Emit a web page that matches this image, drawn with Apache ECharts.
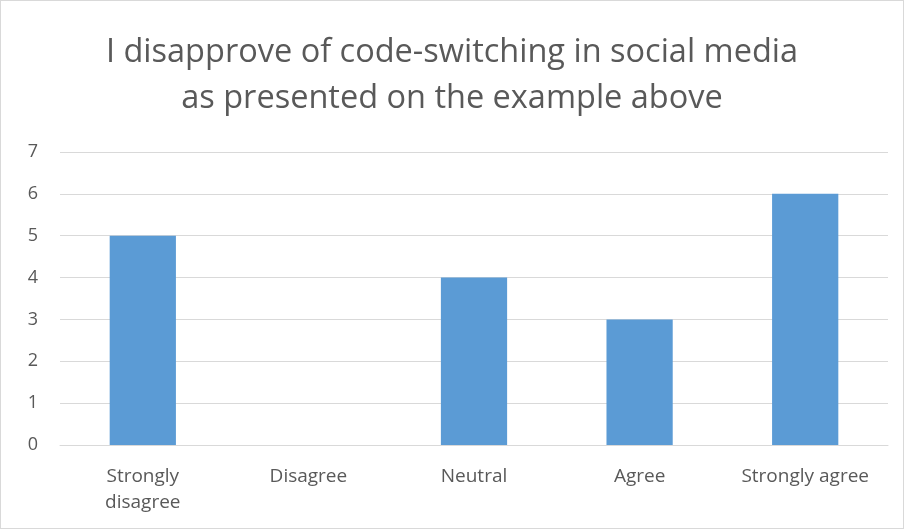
<!DOCTYPE html>
<html>
<head>
<meta charset="utf-8">
<script src="https://cdn.jsdelivr.net/npm/echarts@6/dist/echarts.min.js"></script>
<style>
html,body{margin:0;padding:0;background:#fff;}
#chart{width:902px;height:527px;border:1px solid #d9d9d9;}
</style>
</head>
<body>
<div id="chart"></div>
<script>
// categories and counts
var categories = ['Strongly\ndisagree', 'Disagree', 'Neutral', 'Agree', 'Strongly agree'];
var counts = [5, 0, 4, 3, 6];
var yTicks = {min: 0, max: 7, interval: 1};
var titleText = 'I disapprove of code-switching in social media\nas presented on the example above';

var chart = echarts.init(document.getElementById('chart'));
chart.setOption({
    animation: false,
    title: {
        text: titleText,
        left: 'center',
        top: 24,
        textStyle: {
            fontFamily: 'Open Sans',
            fontSize: 32.5,
            fontWeight: 'normal',
            color: '#595959',
            lineHeight: 46
        }
    },
    grid: {left: 59, right: 15, top: 151, bottom: 83},
    xAxis: {
        type: 'category',
        data: categories,
        axisLine: {lineStyle: {color: '#d9d9d9'}},
        axisTick: {show: false},
        axisLabel: {
            interval: 0,
            color: '#595959',
            fontFamily: 'Open Sans',
            fontSize: 19,
            margin: 19,
            lineHeight: 26
        }
    },
    yAxis: {
        type: 'value',
        min: yTicks.min,
        max: yTicks.max,
        interval: yTicks.interval,
        axisLine: {show: false},
        axisTick: {show: false},
        splitLine: {lineStyle: {color: '#d9d9d9'}},
        axisLabel: {
            color: '#595959',
            fontFamily: 'Open Sans',
            fontSize: 18,
            margin: 22
        }
    },
    series: [{
        type: 'bar',
        data: counts,
        barWidth: '40%',
        itemStyle: {color: '#5b9bd5'}
    }]
});
</script>
</body>
</html>
